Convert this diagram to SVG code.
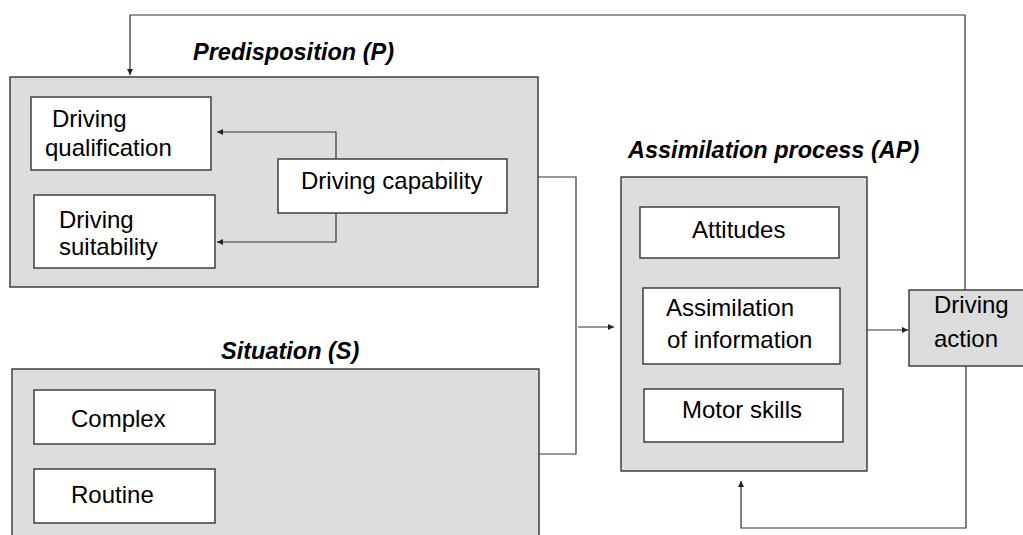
<svg xmlns="http://www.w3.org/2000/svg" width="1023" height="535" viewBox="0 0 1023 535">
<style>
.grp{fill:#dddddd;stroke:#333;stroke-width:1.4}
.box{fill:#fff;stroke:#333;stroke-width:1.4}
.act{fill:#dcdcdc;stroke:#333;stroke-width:1.4}
.t{font-family:"Liberation Sans",Arial,sans-serif;font-size:24px;fill:#000}
.title{font-family:"Liberation Sans",Arial,sans-serif;font-size:23.5px;font-weight:bold;font-style:italic;fill:#000}
.c{fill:none;stroke:#333;stroke-width:1.2}
</style>
<defs>
<marker id="ah" viewBox="0 0 10 10" refX="10" refY="5" markerWidth="7" markerHeight="6" markerUnits="userSpaceOnUse" orient="auto">
<path d="M0,0 L10,5 L0,10 z" fill="#222"/>
</marker>
</defs>
<rect width="1023" height="535" fill="#fff"/>

<g id="predisposition">
<rect class="grp" x="10" y="77" width="528" height="210"/>
<text class="title" x="193" y="60">Predisposition (P)</text>
</g>
<g id="qualification">
<rect class="box" x="31" y="97" width="180" height="73"/>
<text class="t" x="52" y="127">Driving</text>
<text class="t" x="45" y="156">qualification</text>
</g>
<g id="suitability">
<rect class="box" x="34" y="195" width="181" height="73"/>
<text class="t" x="59" y="228">Driving</text>
<text class="t" x="59" y="255">suitability</text>
</g>
<g id="capability">
<rect class="box" x="278" y="159" width="229" height="54"/>
<text class="t" x="301" y="189">Driving capability</text>
</g>

<g id="situation">
<rect class="grp" x="12" y="369" width="527" height="180"/>
<text class="title" x="221" y="359">Situation (S)</text>
</g>
<g id="complex">
<rect class="box" x="34" y="390" width="181" height="54"/>
<text class="t" x="71" y="427">Complex</text>
</g>
<g id="routine">
<rect class="box" x="34" y="469" width="181" height="54"/>
<text class="t" x="71" y="503">Routine</text>
</g>

<g id="assimilation-process">
<rect class="grp" x="621" y="177" width="246" height="294"/>
<text class="title" x="628" y="158">Assimilation process (AP)</text>
</g>
<g id="attitudes">
<rect class="box" x="640" y="207" width="199" height="51"/>
<text class="t" x="692" y="238">Attitudes</text>
</g>
<g id="assimilation-info">
<rect class="box" x="643" y="288" width="197" height="76"/>
<text class="t" x="666" y="316">Assimilation</text>
<text class="t" x="667" y="348">of information</text>
</g>
<g id="motor-skills">
<rect class="box" x="644" y="389" width="199" height="53"/>
<text class="t" x="682" y="418">Motor skills</text>
</g>

<g id="driving-action">
<rect class="act" x="909" y="290" width="130" height="76"/>
<text class="t" x="934" y="313">Driving</text>
<text class="t" x="934" y="347">action</text>
</g>

<g id="connectors">
<path class="c" d="M336,159 V132 H217" marker-end="url(#ah)"/>
<path class="c" d="M336,213 V242 H217" marker-end="url(#ah)"/>
<path class="c" d="M538,177 H576 V454 H539"/>
<path class="c" d="M578,327 H614" marker-end="url(#ah)"/>
<path class="c" d="M867,330 H908" marker-end="url(#ah)"/>
<path class="c" d="M965,290 V15 H130 V75" marker-end="url(#ah)"/>
<path class="c" d="M966,366 V528 H741 V481" marker-end="url(#ah)"/>
</g>
</svg>
